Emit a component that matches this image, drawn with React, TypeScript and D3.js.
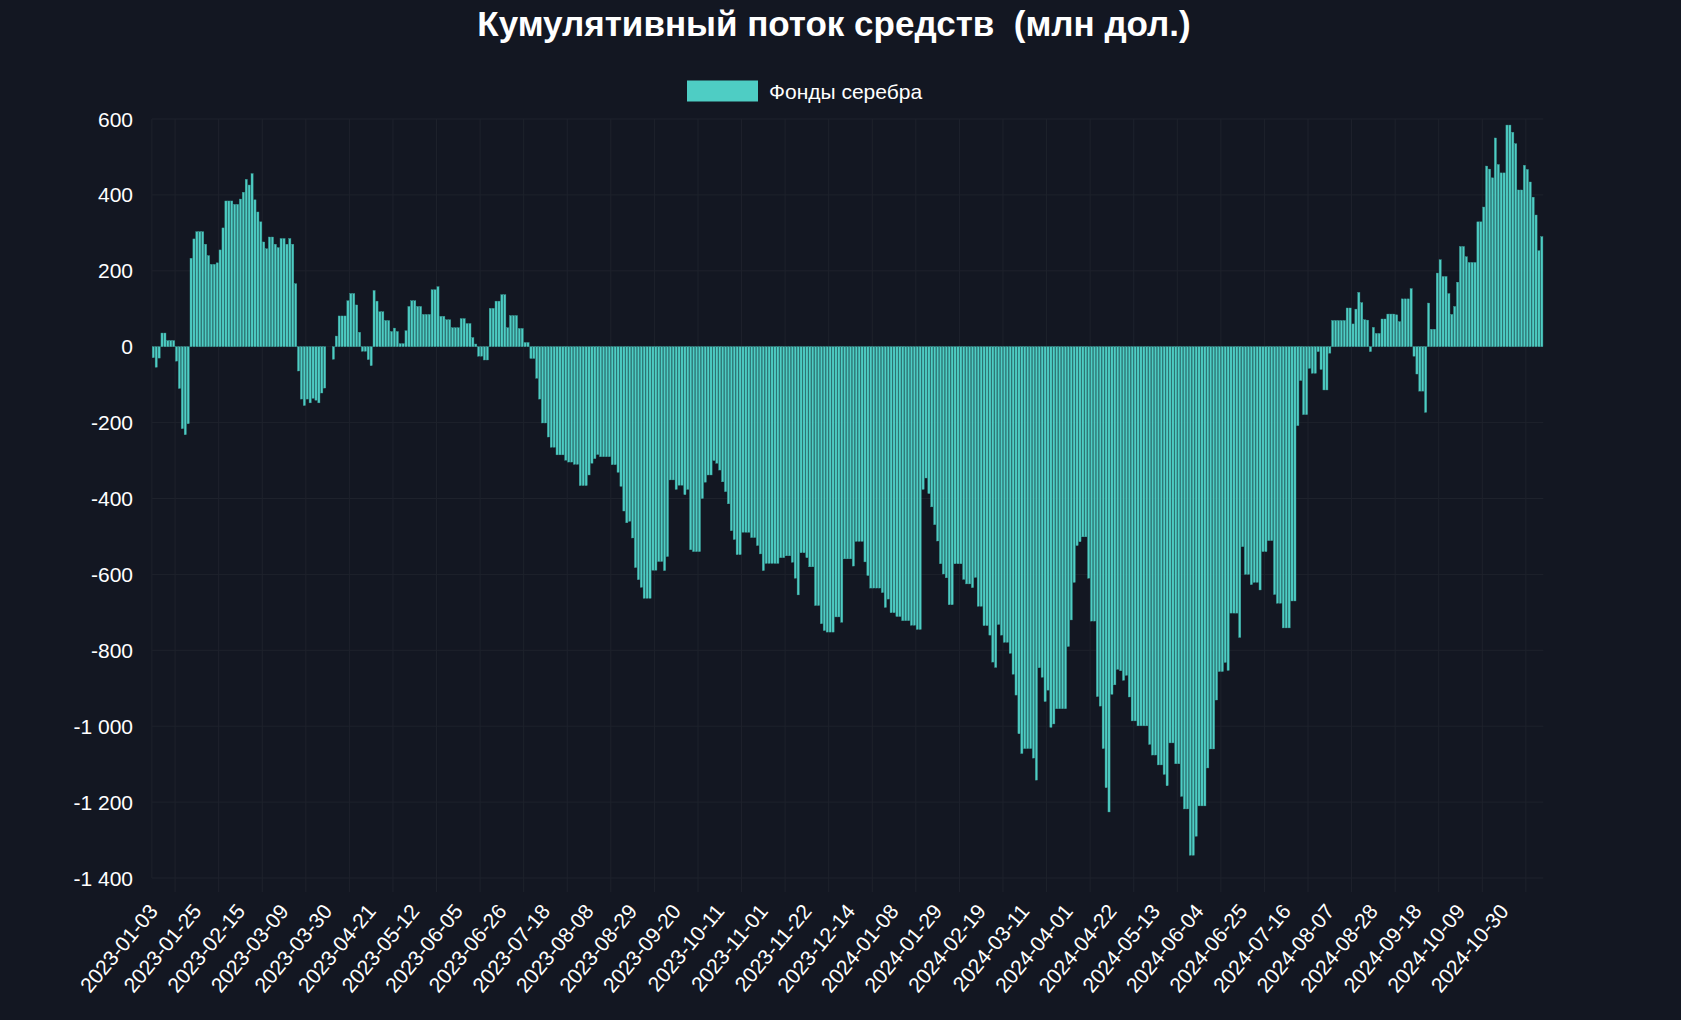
import React from 'react';
import * as d3 from 'd3';

const seriesName = 'Фонды серебра';
const titleText = 'Кумулятивный поток средств  (млн дол.)';

const tickLabels = [
  '2023-01-03', '2023-01-25', '2023-02-15', '2023-03-09', '2023-03-30', '2023-04-21', '2023-05-12', '2023-06-05',
  '2023-06-26', '2023-07-18', '2023-08-08', '2023-08-29', '2023-09-20', '2023-10-11', '2023-11-01', '2023-11-22',
  '2023-12-14', '2024-01-08', '2024-01-29', '2024-02-19', '2024-03-11', '2024-04-01', '2024-04-22', '2024-05-13',
  '2024-06-04', '2024-06-25', '2024-07-16', '2024-08-07', '2024-08-28', '2024-09-18', '2024-10-09', '2024-10-30',
];

const values = [
  -29, -54, -30, 36, 36, 16, 16, 16, -38, -110, -216, -232, -203, 233, 284, 303, 303, 303, 270, 240,
  217, 217, 221, 255, 313, 384, 384, 384, 375, 375, 389, 407, 441, 426, 456, 387, 355, 329, 276, 258,
  289, 289, 270, 261, 285, 285, 270, 285, 270, 166,
  -64, -138, -155, -138, -148, -136, -141, -148, -122, -109, 0, 0, -33,
  28, 81, 81, 81, 121, 140, 140, 110, 38, -12, -12, -34, -50,
  148, 120, 92, 92, 69, 69, 40, 49, 40, 8, 8, 42, 106,
  121, 121, 106, 106, 85, 85, 85, 150, 150, 158, 80, 80, 71, 71, 50, 50, 50, 74, 74, 61, 61, 24, 7,
  -25, -25, -35, -35, 101, 101, 120, 120, 137, 137, 50, 82, 82, 82, 48, 48, 11, 11, -31, -31, -83, -138,
  -201, -201, -238, -265, -265, -285, -285, -285, -299, -304, -304, -310, -310, -366, -366, -366, -338, -307,
  -295, -284, -290, -290, -290, -290, -311, -311, -331, -368, -433, -464, -460, -504, -582, -614, -634,
  -663, -663, -663, -589, -589, -566, -566, -590, -553,
  -351, -351, -376, -365, -365, -390, -376, -535, -540, -540, -540, -400, -357, -338, -338, -300, -307,
  -325, -356, -382, -414, -485, -508, -548, -548, -489, -489, -489, -503, -503, -524, -546, -590,
  -571, -571, -571, -571, -571, -556, -556, -551, -551, -568, -610, -654,
  -543, -543, -556, -580, -580, -682, -682, -730, -748, -752, -752, -752, -712, -712, -726, -559, -559,
  -559, -578, -513, -513, -513, -567, -603, -636, -636, -636, -636, -648, -687, -665, -701, -701, -711,
  -711, -722, -722, -722, -734, -734, -745, -745, -376, -346, -387,
  -422, -469, -512, -572, -599, -609, -680, -680, -572, -572, -572, -613, -625, -625, -635, -608, -684,
  -684, -735, -735, -760, -831, -845, -732, -760, -779, -779, -808, -863, -918, -1020, -1072, -1059,
  -1059, -1059, -1084, -1142, -846, -871, -935, -905, -1003, -994,
  -954, -954, -954, -954, -790, -720, -621, -524, -514, -501, -501, -610, -723, -723, -922, -947, -1059,
  -1162, -1226, -916, -891, -850, -854, -879, -866, -923, -986, -986, -999, -999, -999, -999, -1048,
  -1076, -1076, -1102, -1102, -1127, -1157, -1044, -1044, -1099, -1099, -1185, -1218, -1218,
  -1340, -1340, -1290, -1210, -1210, -1210, -1110, -1060, -1060,
  -931, -856, -856, -832, -853, -702, -702, -702, -766, -527, -600, -600, -627, -621, -621, -641, -540,
  -540, -511, -511, -653, -676, -676, -741, -741, -741, -670, -670, -208, -89, -179, -179, -57, -70,
  -70, -13, -60,
  -114, -114, -17, 69, 69, 69, 69, 69, 102, 102, 60, 99, 143, 116, 71, 70, -13, 51, 35, 35, 73, 73,
  86, 86, 86, 84, 66, 126, 126, 126, 153, -25, -72, -117, -117, -173, 115, 46, 46, 194, 229, 185, 185, 140,
  85, 106, 170, 264, 264, 237, 222, 222, 222, 329, 329, 368, 476, 468, 445, 550, 480, 458, 458, 584,
  584, 565, 535, 413, 413, 478, 467, 434, 394, 347, 253, 290,
];

const yTicks = [600, 400, 200, 0, -200, -400, -600, -800, -1000, -1200, -1400];
const labelEvery = 15;

const W = 1681;
const H = 1020;
const BG = '#131722';
const BAR = '#4ecdc4';
const GRID = '#1e222c';
const FONT = "'Liberation Sans', Arial, Helvetica, sans-serif";

const ruFormat = d3.formatLocale({
  decimal: ',',
  thousands: ' ',
  grouping: [3],
  currency: ['', ''],
  minus: '-',
}).format(',d');

export default function App() {
  React.useEffect(() => {
    document.body.style.margin = '0';
    document.body.style.background = BG;
  }, []);

  const left = 151.85;
  const right = 1543.3;
  const top = 119;
  const bottom = 878;

  const x = d3
    .scaleBand<number>()
    .domain(d3.range(values.length))
    .range([left, right])
    .paddingInner(0.26)
    .paddingOuter(0.13);
  const step = x.step();
  const y = d3.scaleLinear().domain([-1400, 600]).range([bottom, top]);
  const y0 = y(0);

  const gridXs = d3
    .range(1, tickLabels.length + 1)
    .map((k) => k * labelEvery - 7.5)
    .filter((i) => i < values.length)
    .map((i) => left + step * (i + 0.5));

  return (
    <svg width={W} height={H} style={{ display: 'block', background: BG }} fontFamily={FONT}>
      <rect x={0} y={0} width={W} height={H} fill={BG} />
      <text
        x={834}
        y={36}
        textAnchor="middle"
        fill="#ffffff"
        fontSize={35}
        fontWeight="bold"
        style={{ whiteSpace: 'pre' }}
      >
        {titleText}
      </text>
      <rect x={687} y={80.5} width={71} height={21} fill={BAR} />
      <text x={769} y={91} dominantBaseline="central" fill="#ffffff" fontSize={21}>
        {seriesName}
      </text>

      {yTicks.map((t) => (
        <g key={'y' + t}>
          <line x1={left} x2={right} y1={y(t)} y2={y(t)} stroke={GRID} strokeWidth={1} />
          <text x={133} y={y(t)} textAnchor="end" dominantBaseline="central" fill="#ffffff" fontSize={21}>
            {ruFormat(t)}
          </text>
        </g>
      ))}
      {gridXs.map((gx, i) => (
        <line key={'gx' + i} x1={gx} x2={gx} y1={top} y2={bottom + 14} stroke={GRID} strokeWidth={1} />
      ))}
      <line x1={left} x2={left} y1={top} y2={bottom} stroke={GRID} strokeWidth={1} />

      {values.map((v, i) => (
        <rect
          key={'b' + i}
          x={x(i)}
          width={x.bandwidth()}
          y={v >= 0 ? y(v) : y0}
          height={Math.abs(y(v) - y0)}
          fill={BAR}
          stroke="#3a9f98"
          strokeWidth={0.4}
        />
      ))}

      {tickLabels.map((lab, k) => {
        const i = k * labelEvery;
        const tx = left + step * (i + 0.5);
        const ty = 907;
        return (
          <text
            key={'xl' + k}
            x={tx}
            y={ty}
            transform={`rotate(-50, ${tx}, ${ty})`}
            textAnchor="end"
            dominantBaseline="central"
            fill="#ffffff"
            fontSize={21}
          >
            {lab}
          </text>
        );
      })}
    </svg>
  );
}
